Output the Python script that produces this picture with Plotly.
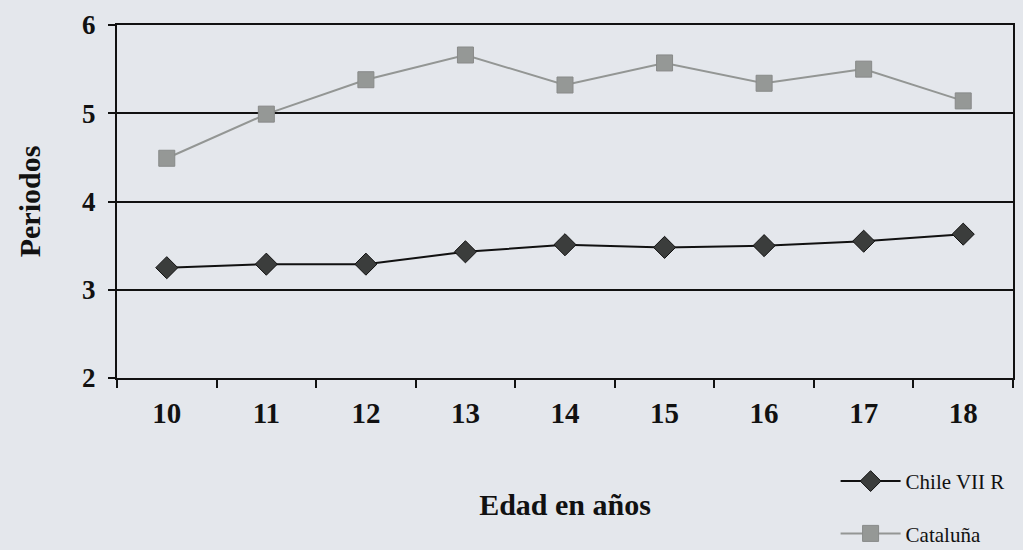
import plotly.graph_objects as go

edades = ["10", "11", "12", "13", "14", "15", "16", "17", "18"]
chile = [3.25, 3.29, 3.29, 3.43, 3.51, 3.48, 3.50, 3.55, 3.63]
cataluna = [4.49, 4.99, 5.38, 5.66, 5.32, 5.57, 5.34, 5.50, 5.14]
y_ticks = [2, 3, 4, 5, 6]

BG = "#e4e7ec"
SERIF = "Liberation Serif"

fig = go.Figure()
fig.add_trace(go.Scatter(
    x=edades, y=chile, name="Chile VII R", mode="lines+markers",
    line=dict(color="#111111", width=2),
    marker=dict(symbol="diamond", size=17, color="#3b3d3c",
                line=dict(color="#111111", width=1)),
    legendgroup="a",
))
fig.add_trace(go.Scatter(
    x=edades, y=cataluna, name="Cataluña", mode="lines+markers",
    line=dict(color="#939694", width=2),
    marker=dict(symbol="square", size=16, color="#959896",
                line=dict(color="#888a89", width=1)),
    legendgroup="b",
))

fig.update_layout(
    width=1023, height=550,
    paper_bgcolor=BG, plot_bgcolor=BG,
    margin=dict(l=117, r=10, t=25, b=172, autoexpand=False),
    font=dict(family=SERIF, color="#111111"),
    legend=dict(
        x=0.802, xanchor="left", y=-0.235, yanchor="top",
        bgcolor="rgba(0,0,0,0)", font=dict(family=SERIF, size=21, color="#111111"),
        itemwidth=60, tracegroupgap=22, traceorder="grouped",
    ),
    showlegend=True,
)
fig.update_xaxes(
    type="category", range=[-0.5, len(edades) - 0.5], tickson="boundaries",
    ticks="outside", ticklen=8, tickwidth=1.5, tickcolor="#111111",
    showline=True, linewidth=2, linecolor="#111111", mirror=True,
    showgrid=False, zeroline=False,
    tickfont=dict(family=SERIF, size=29, color="#111111", weight="bold"),
    ticklabelstandoff=8,
    title=dict(text="<b>Edad en años</b>", font=dict(family=SERIF, size=30, color="#111111"),
               standoff=66),
)
fig.update_yaxes(
    range=[2, 6], tickvals=y_ticks,
    ticks="outside", ticklen=7, tickwidth=1.5, tickcolor="#111111",
    showline=True, linewidth=2, linecolor="#111111", mirror=True,
    showgrid=True, gridcolor="#111111", gridwidth=1.5, zeroline=False,
    tickfont=dict(family=SERIF, size=27, color="#111111", weight="bold"),
    ticklabelstandoff=7,
    title=dict(text="<b>Periodos</b>", font=dict(family=SERIF, size=30, color="#111111"),
               standoff=33),
)

fig.write_html("out.html", config={"displayModeBar": False},
               post_script="document.body.style.margin='0';document.body.style.background='" + BG + "';")
